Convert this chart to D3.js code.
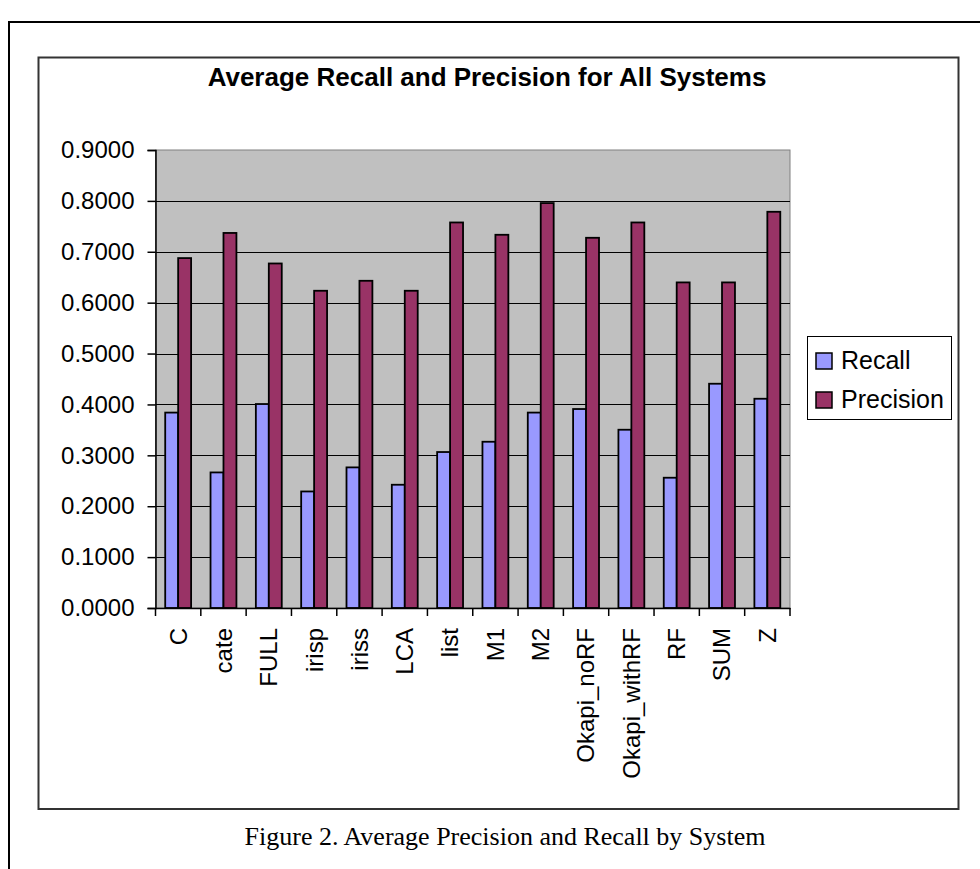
<!DOCTYPE html>
<html>
<head>
<meta charset="utf-8">
<script src="https://cdn.jsdelivr.net/npm/d3@7"></script>
<style>
  html, body { margin: 0; padding: 0; background: #ffffff; }
  svg { display: block; }
</style>
</head>
<body>
<svg id="chart" width="980" height="869"></svg>
<script>
// ---- data ----
const categories = ["C", "cate", "FULL", "irisp", "iriss", "LCA", "list", "M1", "M2", "Okapi_noRF", "Okapi_withRF", "RF", "SUM", "Z"];
const seriesNames = ["Recall", "Precision"];
const recall    = [0.3840, 0.2664, 0.4008, 0.2290, 0.2763, 0.2422, 0.3065, 0.3267, 0.3840, 0.3910, 0.3503, 0.2560, 0.4407, 0.4112];
const precision = [0.6876, 0.7370, 0.6770, 0.6234, 0.6430, 0.6234, 0.7576, 0.7334, 0.7957, 0.7275, 0.7576, 0.6398, 0.6398, 0.7786];
const yTicks = [0, 0.1, 0.2, 0.3, 0.4, 0.5, 0.6, 0.7, 0.8, 0.9];
const titleText = "Average Recall and Precision for All Systems";
const captionText = "Figure 2. Average Precision and Recall by System";
const colors = ["#9999FF", "#993366"];

const rows = categories.map((c, i) => ({ cat: c, values: [recall[i], precision[i]] }));

const svg = d3.select("#chart");

// outer page frame
svg.append("path")
  .attr("d", "M990,22 H9 V880")
  .attr("fill", "none").attr("stroke", "#000").attr("stroke-width", 2);

// chart box
svg.append("rect")
  .attr("x", 38.5).attr("y", 57.5).attr("width", 920).attr("height", 751.5)
  .attr("fill", "#fff").attr("stroke", "#333").attr("stroke-width", 2);

// plot area
const plot = { left: 155.5, top: 150, right: 790, bottom: 608 };

const x0 = d3.scaleBand().domain(categories).range([plot.left, plot.right]).padding(0);
const x1 = d3.scaleBand().domain(seriesNames).range([0, x0.bandwidth()]).paddingInner(0).paddingOuter(0.75);
const y = d3.scaleLinear().domain([0, 0.9]).range([plot.bottom, plot.top]);

svg.append("rect")
  .attr("x", plot.left).attr("y", plot.top)
  .attr("width", plot.right - plot.left).attr("height", plot.bottom - plot.top)
  .attr("fill", "#C0C0C0").attr("stroke", "#808080").attr("stroke-width", 1);

// gridlines
svg.append("g").selectAll("line").data(yTicks.filter(d => d > 0 && d < 0.9)).join("line")
  .attr("x1", plot.left).attr("x2", plot.right)
  .attr("y1", d => Math.round(y(d)) + 0.5).attr("y2", d => Math.round(y(d)) + 0.5)
  .attr("stroke", "#000").attr("stroke-width", 1);

// bars
const groups = svg.append("g").selectAll("g").data(rows).join("g")
  .attr("transform", d => `translate(${x0(d.cat)},0)`);
groups.selectAll("rect").data(d => d.values.map((v, i) => ({ key: seriesNames[i], v, i }))).join("rect")
  .attr("x", d => x1(d.key))
  .attr("y", d => y(d.v))
  .attr("width", x1.bandwidth())
  .attr("height", d => y(0) - y(d.v))
  .attr("fill", d => colors[d.i])
  .attr("stroke", "#000").attr("stroke-width", 1.8);

// y axis
const yAxis = d3.axisLeft(y).tickValues(yTicks).tickFormat(d3.format(".4f")).tickSize(8).tickPadding(13);
const yg = svg.append("g").attr("transform", `translate(${plot.left},0)`).call(yAxis);
yg.select(".domain").attr("stroke", "#000").attr("stroke-width", 1.5);
yg.selectAll(".tick line").attr("stroke", "#000").attr("stroke-width", 1.5);
yg.selectAll(".tick text").attr("font-family", "'Liberation Sans', Arial, sans-serif").attr("font-size", 24).attr("fill", "#000");

// x axis
const xAxis = d3.axisBottom(x0).tickSize(0).tickPadding(0);
const xg = svg.append("g").attr("transform", `translate(0,${plot.bottom})`).call(xAxis);
xg.select(".domain").attr("stroke", "#000").attr("stroke-width", 1.5);
xg.selectAll(".tick text")
  .attr("font-family", "'Liberation Sans', Arial, sans-serif").attr("font-size", 24).attr("fill", "#000")
  .attr("transform", "rotate(-90)")
  .attr("text-anchor", "end")
  .attr("x", -20).attr("y", 0).attr("dy", "0.35em");
// boundary ticks
const bounds = categories.map(c => x0(c)).concat([plot.right]);
xg.append("g").selectAll("line").data(bounds).join("line")
  .attr("x1", d => d).attr("x2", d => d).attr("y1", 0).attr("y2", 8)
  .attr("stroke", "#000").attr("stroke-width", 1.5);

// title
svg.append("text")
  .attr("x", 487).attr("y", 86)
  .attr("text-anchor", "middle")
  .attr("font-family", "'Liberation Sans', Arial, sans-serif")
  .attr("font-weight", "bold").attr("font-size", 26)
  .text(titleText);

// legend
const lg = svg.append("g");
lg.append("rect").attr("x", 807.5).attr("y", 336.5).attr("width", 144).attr("height", 83)
  .attr("fill", "#fff").attr("stroke", "#000").attr("stroke-width", 1);
const items = lg.selectAll("g.item").data(seriesNames).join("g").attr("class", "item")
  .attr("transform", (d, i) => `translate(816,${353 + i * 39})`);
items.append("rect").attr("width", 16).attr("height", 16)
  .attr("fill", (d, i) => colors[i]).attr("stroke", "#000").attr("stroke-width", 1.5);
items.append("text").attr("x", 25).attr("y", 16)
  .attr("font-family", "'Liberation Sans', Arial, sans-serif").attr("font-size", 25)
  .text(d => d);

// caption
svg.append("text")
  .attr("x", 505).attr("y", 845)
  .attr("text-anchor", "middle")
  .attr("font-family", "'Liberation Serif', 'Times New Roman', serif")
  .attr("font-size", 26)
  .text(captionText);
</script>
</body>
</html>
